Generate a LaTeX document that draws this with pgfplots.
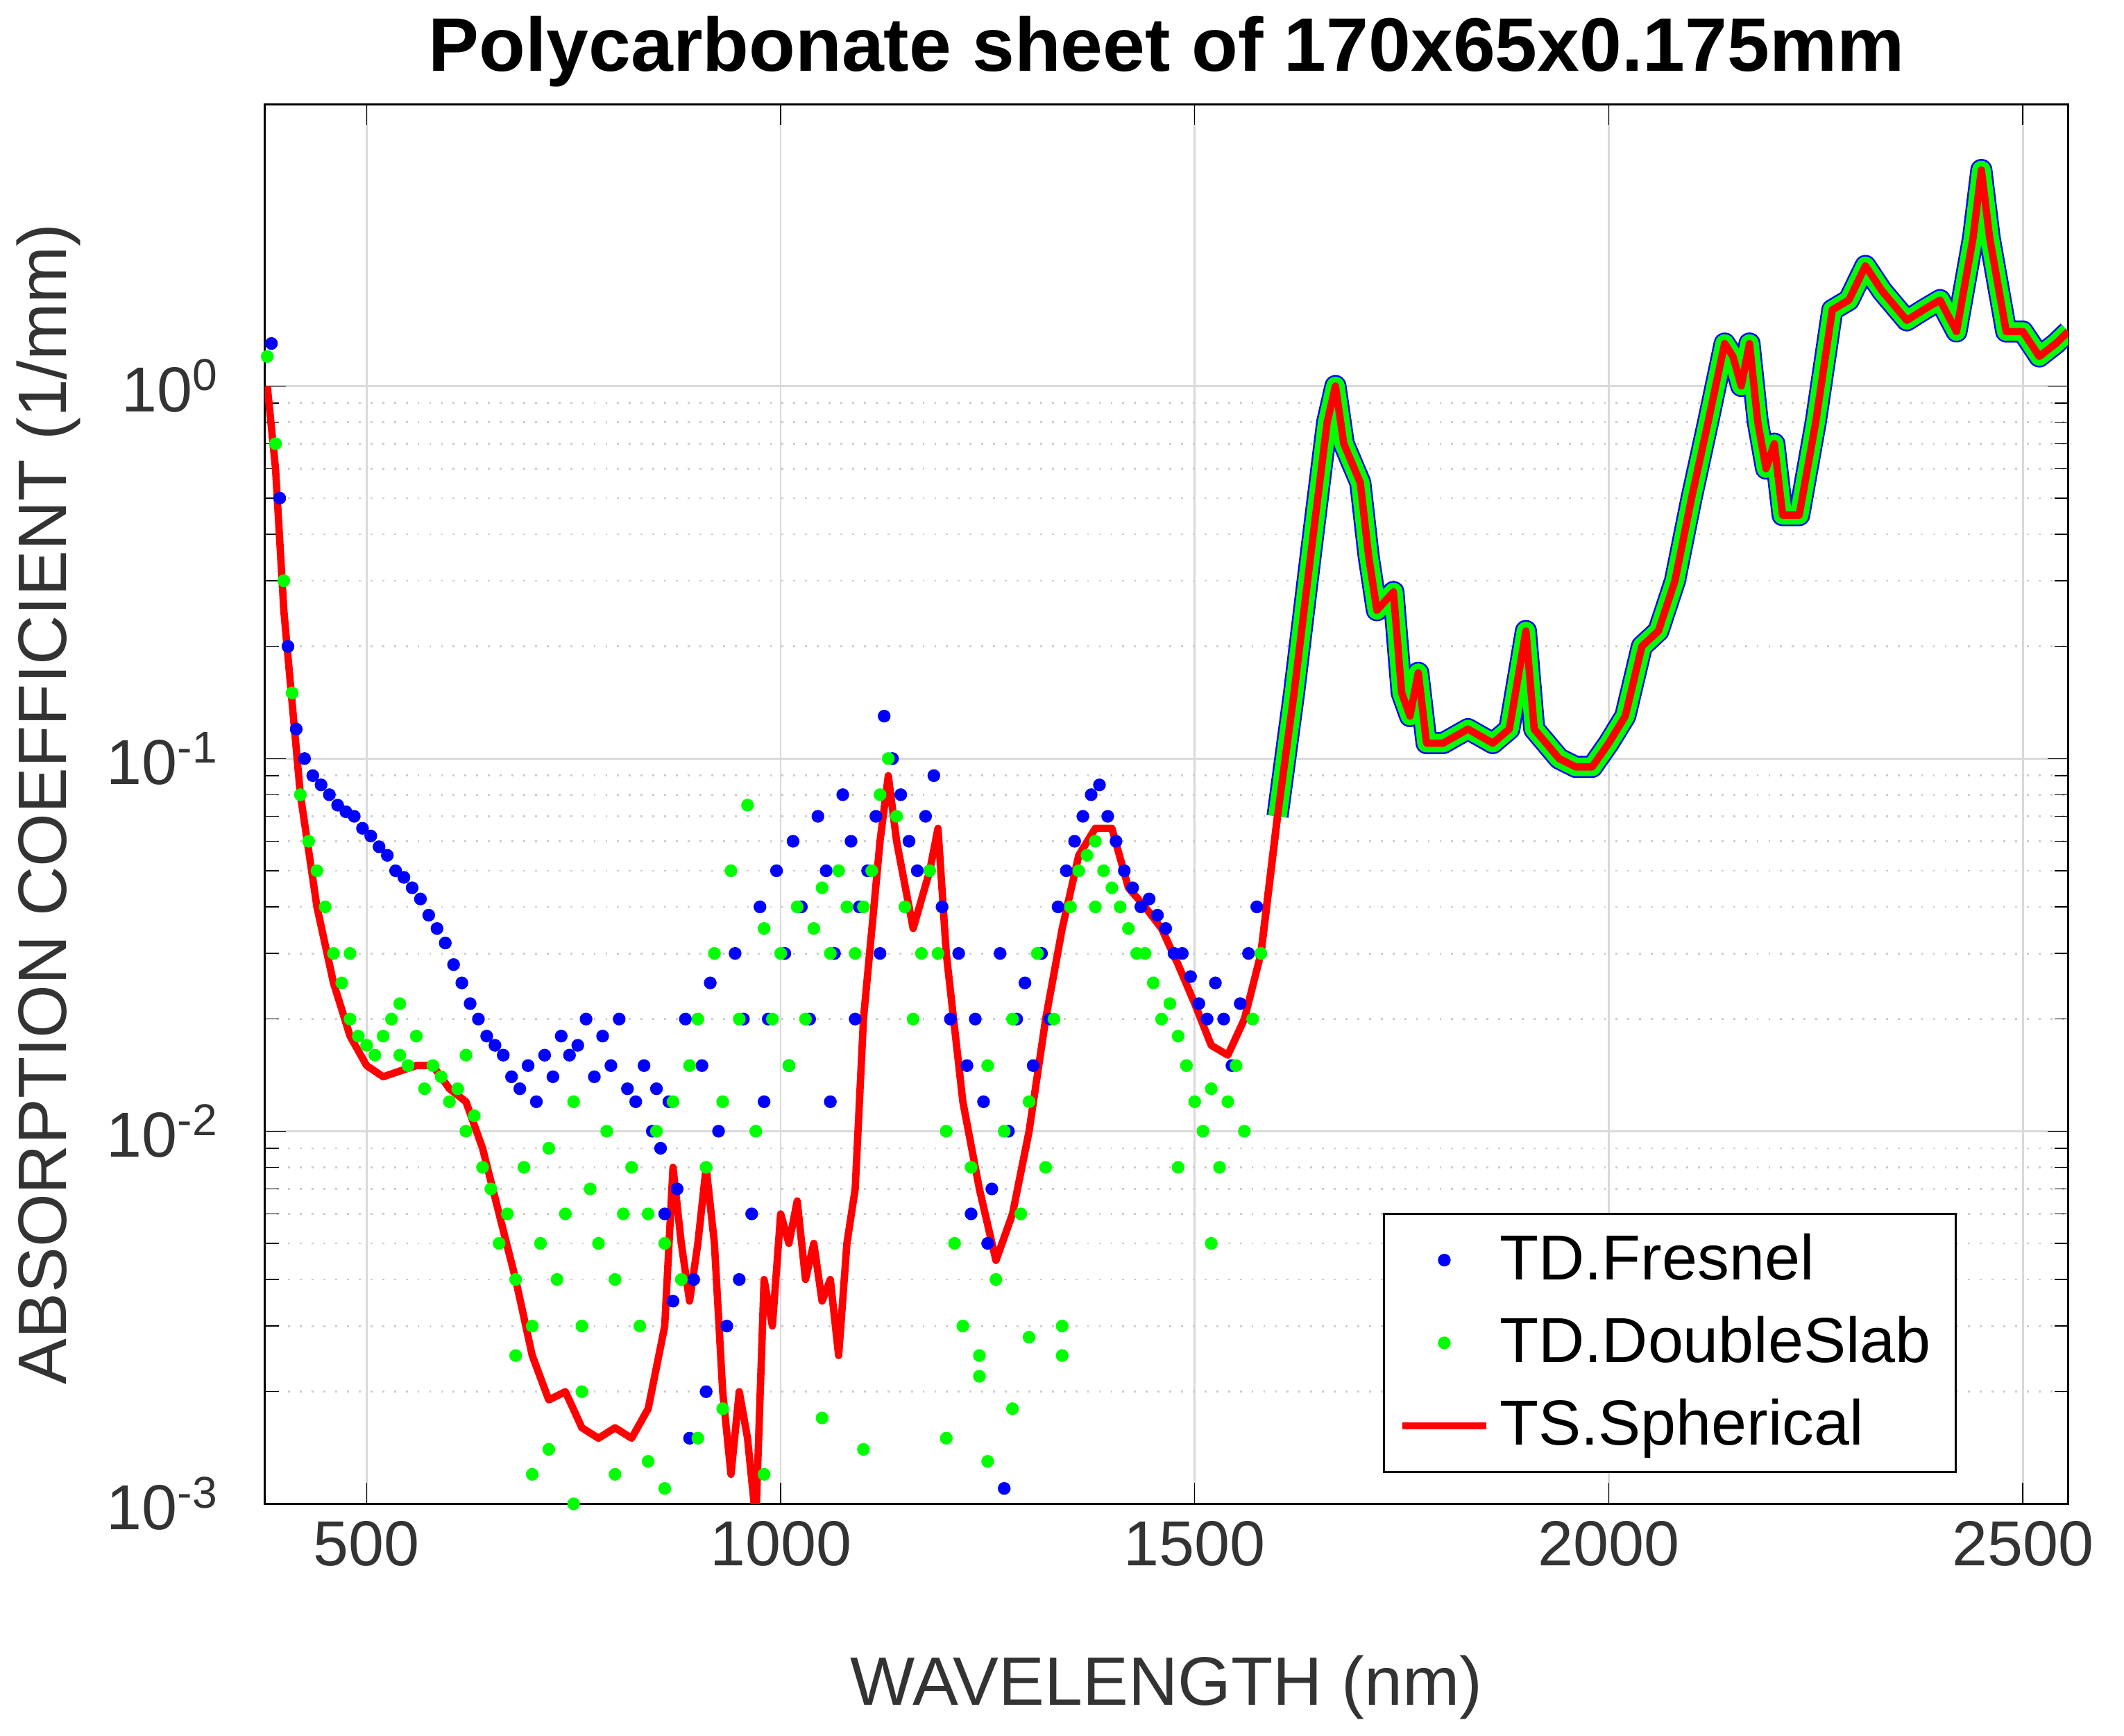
\documentclass[border=0pt]{standalone}
\usepackage{pgfplots}
\usepackage{pgfplotstable}
\pgfplotsset{compat=1.18}
\usepackage{fontspec}
\setmainfont{Liberation Sans}
\pgfplotstableread{
x y
380 1.0
390 0.6
400 0.25
420 0.08
440 0.04
460 0.025
480 0.018
500 0.015
520 0.014
540 0.0145
560 0.015
580 0.015
600 0.013
620 0.012
640 0.009
660 0.006
680 0.004
700 0.0025
720 0.0019
740 0.002
760 0.0016
780 0.0015
800 0.0016
820 0.0015
840 0.0018
860 0.003
870 0.008
880 0.005
890 0.0035
900 0.005
910 0.008
920 0.005
930 0.002
940 0.0012
950 0.002
960 0.0015
970 0.0009
980 0.004
990 0.003
1000 0.006
1010 0.005
1020 0.0065
1030 0.004
1040 0.005
1050 0.0035
1060 0.004
1070 0.0025
1080 0.005
1090 0.007
1100 0.02
1120 0.06
1130 0.09
1140 0.06
1160 0.035
1180 0.05
1190 0.065
1200 0.03
1220 0.012
1240 0.007
1260 0.0045
1280 0.006
1300 0.01
1320 0.02
1340 0.035
1360 0.055
1380 0.065
1400 0.065
1420 0.045
1440 0.04
1460 0.035
1480 0.028
1500 0.022
1520 0.017
1540 0.016
1560 0.02
1580 0.03
1600 0.07
1620 0.15
1640 0.35
1660 0.8
1670 1.0
1680 0.7
1700 0.55
1710 0.35
1720 0.25
1740 0.28
1750 0.15
1760 0.13
1770 0.17
1780 0.11
1800 0.11
1830 0.12
1860 0.11
1880 0.12
1900 0.22
1910 0.12
1940 0.1
1960 0.095
1980 0.095
2000 0.11
2020 0.13
2040 0.2
2060 0.22
2080 0.3
2100 0.5
2120 0.8
2140 1.3
2150 1.2
2160 1.0
2170 1.3
2180 0.8
2190 0.6
2200 0.7
2210 0.45
2230 0.45
2250 0.8
2270 1.6
2290 1.7
2310 2.1
2330 1.8
2360 1.5
2380 1.6
2400 1.7
2420 1.4
2440 2.5
2450 3.8
2460 2.5
2480 1.4
2500 1.4
2520 1.2
2540 1.3
2555 1.4
}\redtab
\pgfplotstableread{
x y
385 1.3
395 0.5
405 0.2
415 0.12
425 0.1
435 0.09
445 0.085
455 0.08
465 0.075
475 0.072
485 0.07
495 0.065
505 0.062
515 0.058
525 0.055
535 0.05
545 0.048
555 0.045
565 0.042
575 0.038
585 0.035
595 0.032
605 0.028
615 0.025
625 0.022
635 0.02
645 0.018
655 0.017
665 0.016
675 0.014
685 0.013
695 0.015
705 0.012
715 0.016
725 0.014
735 0.018
745 0.016
755 0.017
765 0.02
775 0.014
785 0.018
795 0.015
805 0.02
815 0.013
825 0.012
835 0.015
845 0.01
855 0.009
865 0.012
875 0.007
885 0.02
895 0.004
905 0.015
915 0.025
925 0.01
935 0.003
945 0.03
955 0.02
965 0.006
975 0.04
985 0.02
995 0.05
1005 0.03
1015 0.06
1025 0.04
1035 0.02
1045 0.07
1055 0.05
1065 0.03
1075 0.08
1085 0.06
1095 0.04
1105 0.05
1115 0.07
1125 0.13
1135 0.1
1145 0.08
1155 0.06
1165 0.05
1175 0.07
1185 0.09
1195 0.04
1205 0.02
1215 0.03
1225 0.015
1235 0.02
1245 0.012
1255 0.007
1265 0.03
1275 0.01
1285 0.02
1295 0.025
1305 0.015
1315 0.03
1325 0.02
1335 0.04
1345 0.05
1355 0.06
1365 0.07
1375 0.08
1385 0.085
1395 0.07
1405 0.06
1415 0.05
1425 0.045
1435 0.04
1445 0.042
1455 0.038
1465 0.035
1475 0.03
1485 0.03
1495 0.026
1505 0.022
1515 0.02
1525 0.025
1535 0.02
1545 0.015
1555 0.022
1565 0.03
1575 0.04
870 0.0035
890 0.0015
910 0.002
860 0.006
1250 0.005
1270 0.0011
1230 0.006
850 0.013
950 0.004
980 0.012
1010 0.015
1060 0.012
1090 0.02
1120 0.03
}\bluetab
\pgfplotstableread{
x y
380 1.2
390 0.7
400 0.3
410 0.15
420 0.08
430 0.06
440 0.05
450 0.04
460 0.03
470 0.025
480 0.02
490 0.018
500 0.017
510 0.016
520 0.018
530 0.02
540 0.016
550 0.015
560 0.018
570 0.013
580 0.015
590 0.014
600 0.012
610 0.013
620 0.01
630 0.011
640 0.008
650 0.007
660 0.005
670 0.006
680 0.004
690 0.008
700 0.003
710 0.005
720 0.009
730 0.004
740 0.006
750 0.012
760 0.003
770 0.007
780 0.005
790 0.01
800 0.004
810 0.006
820 0.008
830 0.003
840 0.006
850 0.01
860 0.005
870 0.012
880 0.004
890 0.015
900 0.02
910 0.008
920 0.03
930 0.012
940 0.05
950 0.02
960 0.075
970 0.01
980 0.035
990 0.02
1000 0.03
1010 0.015
1020 0.04
1030 0.02
1040 0.035
1050 0.045
1060 0.03
1070 0.05
1080 0.04
1090 0.03
1100 0.04
1110 0.05
1120 0.08
1130 0.1
1140 0.07
1150 0.04
1160 0.02
1170 0.03
1180 0.05
1190 0.03
1200 0.01
1210 0.005
1220 0.003
1230 0.008
1240 0.0025
1250 0.015
1260 0.004
1270 0.01
1280 0.02
1290 0.006
1300 0.012
1310 0.03
1320 0.008
1330 0.02
1340 0.003
1350 0.04
1360 0.05
1370 0.055
1380 0.06
1390 0.05
1400 0.045
1410 0.04
1420 0.035
1430 0.03
1440 0.03
1450 0.025
1460 0.02
1470 0.022
1480 0.018
1490 0.015
1500 0.012
1510 0.01
1520 0.013
1530 0.008
1540 0.012
1550 0.015
1560 0.01
1570 0.02
1580 0.03
700 0.0012
720 0.0014
750 0.001
800 0.0012
840 0.0013
860 0.0011
900 0.0015
930 0.0018
980 0.0012
1050 0.0017
1100 0.0014
1200 0.0015
1240 0.0022
1280 0.0018
1300 0.0028
1340 0.0025
1250 0.0013
1520 0.005
1480 0.008
1380 0.04
760 0.002
680 0.0025
620 0.016
540 0.022
480 0.03
}\greentab
\begin{document}
\begin{tikzpicture}
\begin{axis}[
  scale only axis, width=12.95cm, height=10.05cm,
  ymode=log, xmin=377, xmax=2555, ymin=1e-3, ymax=5.7,
  xtick={500,1000,1500,2000,2500},
  ytick={1e-3,1e-2,1e-1,1},
  yticklabels={10\textsuperscript{-3},10\textsuperscript{-2},10\textsuperscript{-1},10\textsuperscript{0}},
  /pgf/number format/assume math mode=true,
  /pgf/number format/1000 sep={},
  tick align=inside, tick style={black},
  xmajorgrids, ymajorgrids, yminorgrids,
  major grid style={gray!30},
  minor grid style={gray!40, dotted},
  ticklabel style={font=\fontsize{13}{15}\selectfont, text=black!80},
  yticklabel style={xshift=-0.2cm},
  xlabel={WAVELENGTH (nm)}, ylabel={ABSORPTION COEFFICIENT (1/mm)},
  label style={font=\fontsize{14}{16}\selectfont, text=black!80},
  ylabel style={yshift=-0.05cm},
  xlabel style={yshift=-0.4cm},
  title={\bfseries Polycarbonate sheet of 170x65x0.175mm},
  title style={font=\fontsize{15.5}{18}\selectfont, yshift=-6pt},
  legend style={at={(0.938,0.022)}, anchor=south east, font=\fontsize{13}{16}\selectfont, draw=black, row sep=2pt},
  legend cell align=left,
  clip=true,
  after end axis/.code={\path (rel axis cs:1,0) ++(0.4cm,0) coordinate (rr); \path (rr);},
]
\addplot[only marks, mark=*, mark size=1.1pt, draw=blue, fill=blue] table {\bluetab};
\addlegendentry{TD.Fresnel}
\addplot[only marks, mark=*, mark size=1.1pt, draw=green, fill=green] table {\greentab};
\addlegendentry{TD.DoubleSlab}
\addplot[red, line width=1.5pt, line join=round] table {\redtab};
\addlegendentry{TS.Spherical}
\addplot[blue, line width=4.5pt, line join=round, forget plot, restrict x to domain=1590:2560] table {\redtab};
\addplot[green, line width=3.8pt, line join=round, forget plot, restrict x to domain=1590:2560] table {\redtab};
\addplot[red, line width=1.5pt, line join=round, forget plot, restrict x to domain=1580:2560] table {\redtab};
\end{axis}
\end{tikzpicture}
\end{document}
